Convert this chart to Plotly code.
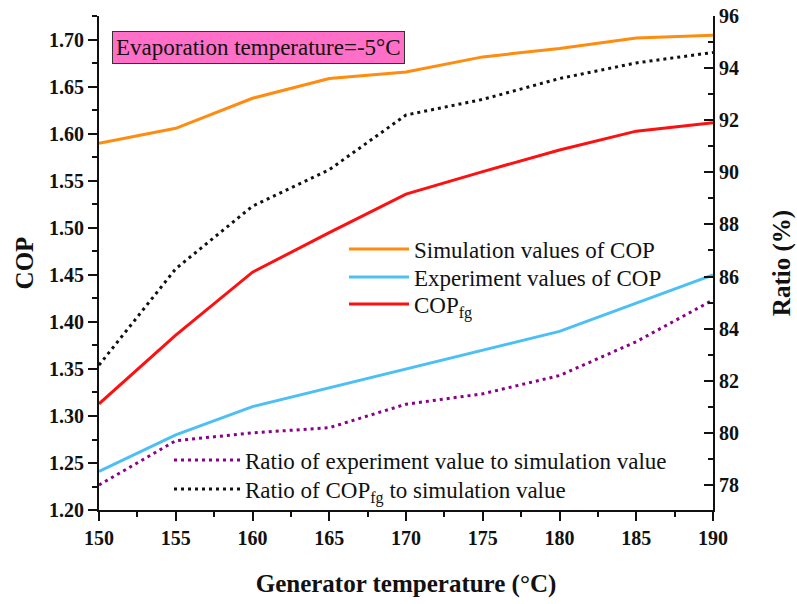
import plotly.graph_objects as go

# Generator temperature (°C)
temps = [150, 155, 160, 165, 170, 175, 180, 185, 190]

# COP values (left axis)
cop_sim = [1.590, 1.606, 1.638, 1.659, 1.666, 1.682, 1.691, 1.702, 1.705]
cop_exp = [1.241, 1.280, 1.310, 1.330, 1.350, 1.370, 1.390, 1.420, 1.450]
cop_fg = [1.313, 1.386, 1.453, 1.495, 1.536, 1.560, 1.583, 1.603, 1.612]

# Ratios in % (right axis)
ratio_exp = [78.0, 79.7, 80.0, 80.2, 81.1, 81.5, 82.2, 83.5, 85.1]
ratio_fg = [82.6, 86.3, 88.7, 90.1, 92.2, 92.8, 93.6, 94.2, 94.6]

FONT = "Liberation Serif, Times New Roman, serif"

# plot area in pixels
L, R, T, B = 99, 713, 16, 510


def px_x(v):
    return (v - L) / (R - L)


def px_y(v):
    return (B - v) / (B - T)


fig = go.Figure()

fig.add_trace(go.Scatter(x=temps, y=cop_sim, mode="lines", name="Simulation values of COP",
                         line=dict(color="#FF8C0F", width=3), legend="legend"))
fig.add_trace(go.Scatter(x=temps, y=cop_exp, mode="lines", name="Experiment values of COP",
                         line=dict(color="#4CC0F5", width=3), legend="legend2"))
fig.add_trace(go.Scatter(x=temps, y=cop_fg, mode="lines", name="COP<sub>fg</sub>",
                         line=dict(color="#FF1010", width=3), legend="legend3"))
fig.add_trace(go.Scatter(x=temps, y=ratio_exp, mode="lines", yaxis="y2",
                         name="Ratio of experiment value to simulation value",
                         line=dict(color="#8B008B", width=3, dash="3px,4px"), legend="legend4"))
fig.add_trace(go.Scatter(x=temps, y=ratio_fg, mode="lines", yaxis="y2",
                         name="Ratio of COP<sub>fg</sub> to simulation value",
                         line=dict(color="#111111", width=3, dash="3px,4px"), legend="legend5"))

tickfont = dict(family=FONT, size=20, color="#111111", weight="bold")
titlefont = dict(family=FONT, size=25, color="#111111", weight="bold")
legfont = dict(family=FONT, size=23, color="#111111")


def leg(xpx, ypx, iw):
    return dict(x=px_x(xpx), y=px_y(ypx), xanchor="left", yanchor="middle",
                bgcolor="rgba(0,0,0,0)", itemwidth=iw, font=legfont)


fig.update_layout(
    width=797, height=604,
    margin=dict(l=L, r=797 - R, t=T, b=604 - B, autoexpand=False),
    paper_bgcolor="white", plot_bgcolor="white",
    showlegend=True,
    font=dict(family=FONT, color="#111111"),
    xaxis=dict(range=[150, 190], dtick=5, tick0=150, showgrid=False, zeroline=False,
               automargin=False,
               showline=True, linecolor="#111111", linewidth=2,
               ticks="outside", ticklen=9, tickwidth=2, tickcolor="#111111",
               minor=dict(ticks="outside", ticklen=5, dtick=2.5, tickwidth=2, tickcolor="#111111"),
               tickfont=tickfont,
               title=dict(text="Generator temperature (°C)", font=titlefont, standoff=26)),
    xaxis2=dict(range=[150, 190], overlaying="x", side="top", dtick=5, tick0=150,
                showgrid=False, zeroline=False, showticklabels=False, automargin=False,
                showline=True, linecolor="#111111", linewidth=2,
                ticks="inside", ticklen=9, tickwidth=2, tickcolor="#111111",
                minor=dict(ticks="inside", ticklen=5, dtick=2.5, tickwidth=2, tickcolor="#111111")),
    yaxis=dict(range=[1.20, 1.7255], dtick=0.05, tick0=1.2, tickformat=".2f",
               showgrid=False, zeroline=False, automargin=False,
               showline=True, linecolor="#111111", linewidth=2,
               ticks="outside", ticklen=9, tickwidth=2, tickcolor="#111111",
               minor=dict(ticks="outside", ticklen=5, dtick=0.025, tickwidth=2, tickcolor="#111111"),
               tickfont=tickfont,
               title=dict(text="COP", font=titlefont, standoff=8)),
    yaxis2=dict(range=[77.04, 96], overlaying="y", side="right", dtick=2, tick0=78,
                showgrid=False, zeroline=False, automargin=False,
                showline=True, linecolor="#111111", linewidth=2,
                ticks="inside", ticklen=9, tickwidth=2, tickcolor="#111111",
                minor=dict(ticks="inside", ticklen=5, dtick=1, tickwidth=2, tickcolor="#111111"),
                tickfont=tickfont,
                title=dict(text="Ratio (%)", font=titlefont, standoff=34)),
    legend=leg(344, 249, 60),
    legend2=leg(344, 277, 60),
    legend3=leg(344, 304, 60),
    legend4=leg(169, 460, 66),
    legend5=leg(169, 489, 66),
    annotations=[dict(text="Evaporation temperature=-5°C", xref="paper", yref="paper",
                      x=px_x(112), y=px_y(31), xanchor="left", yanchor="top",
                      showarrow=False, bgcolor="#FF6EC7", bordercolor="#333333",
                      borderwidth=1, borderpad=3,
                      font=dict(family=FONT, size=23, color="#111111"))],
)

fig.write_html("out.html")
